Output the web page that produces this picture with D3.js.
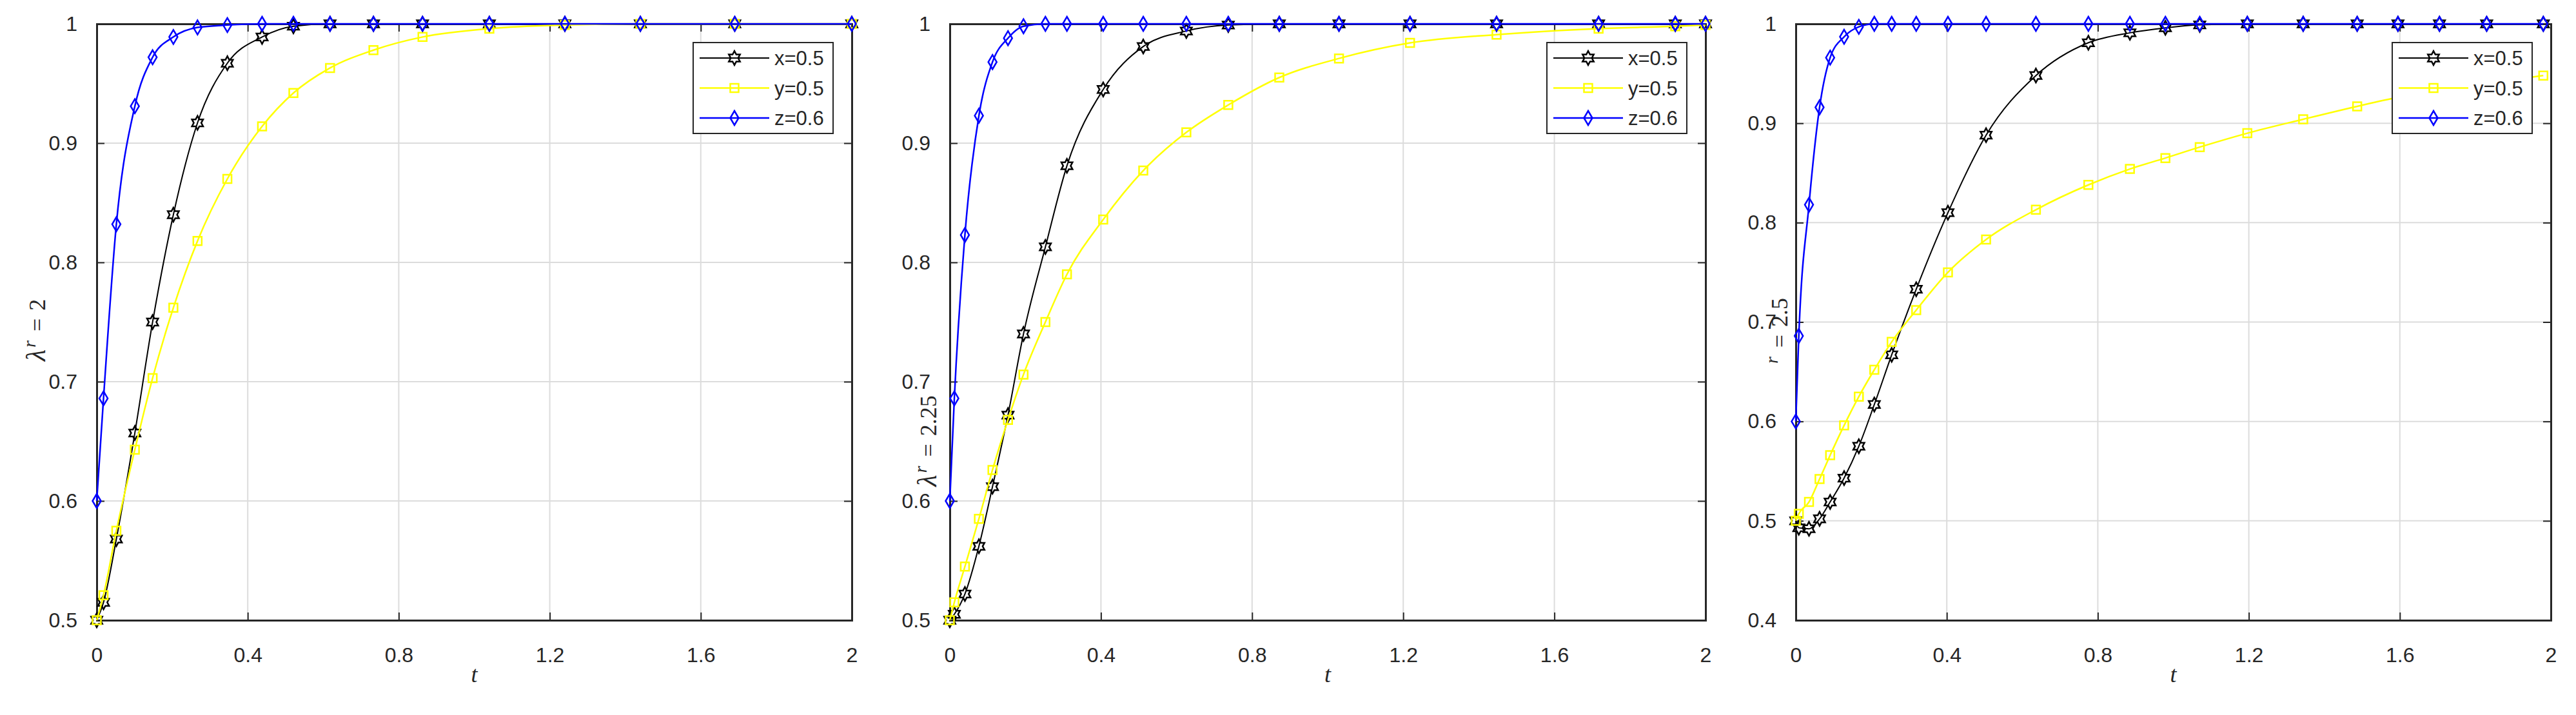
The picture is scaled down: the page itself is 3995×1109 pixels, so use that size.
<!DOCTYPE html>
<html>
<head>
<meta charset="utf-8">
<script src="https://cdn.jsdelivr.net/npm/d3@7"></script>
<style>
  html, body { margin: 0; padding: 0; background: #fff; }
  svg { display: block; }
</style>
</head>
<body>
<script>
const width = 3995;
const height = 1109;

const xTicks = [0, 0.4, 0.8, 1.2, 1.6, 2];
const legendNames = ["x=0.5", "y=0.5", "z=0.6"];

// r = 2
const t1 = [0, 0.018, 0.052, 0.101, 0.148, 0.203, 0.267, 0.346, 0.438, 0.521, 0.618, 0.733, 0.863, 1.04, 1.24, 1.44, 1.69, 2.0];
const x1 = [0.5, 0.515, 0.568, 0.657, 0.750, 0.840, 0.917, 0.967, 0.989, 0.998, 1, 1, 1, 1, 1, 1, 1, 1];
const y1 = [0.5, 0.521, 0.575, 0.643, 0.703, 0.762, 0.818, 0.870, 0.914, 0.942, 0.963, 0.978, 0.989, 0.996, 0.999, 1, 1, 1];
const z1 = [0.6, 0.686, 0.832, 0.931, 0.972, 0.989, 0.997, 0.999, 1, 1, 1, 1, 1, 1, 1, 1, 1, 1];

// r = 2.25
const t2 = [0, 0.012, 0.040, 0.077, 0.113, 0.154, 0.195, 0.253, 0.310, 0.406, 0.512, 0.626, 0.737, 0.872, 1.03, 1.218, 1.447, 1.717, 1.92, 2.0];
const x2 = [0.5, 0.505, 0.522, 0.562, 0.612, 0.672, 0.740, 0.813, 0.881, 0.945, 0.981, 0.994, 0.999, 1, 1, 1, 1, 1, 1, 1];
const y2 = [0.5, 0.515, 0.545, 0.585, 0.626, 0.668, 0.706, 0.750, 0.790, 0.836, 0.877, 0.909, 0.932, 0.955, 0.971, 0.984, 0.991, 0.996, 0.998, 0.999];
const z2 = [0.6, 0.686, 0.823, 0.923, 0.968, 0.988, 0.998, 1, 1, 1, 1, 1, 1, 1, 1, 1, 1, 1, 1, 1];

// r = 2.5
const t3 = [0, 0.008, 0.035, 0.063, 0.091, 0.128, 0.167, 0.208, 0.254, 0.319, 0.403, 0.504, 0.636, 0.775, 0.885, 0.979, 1.07, 1.196, 1.344, 1.487, 1.595, 1.705, 1.83, 1.98];
const x3 = [0.5, 0.493, 0.492, 0.502, 0.519, 0.543, 0.575, 0.617, 0.667, 0.733, 0.810, 0.888, 0.948, 0.981, 0.991, 0.996, 0.999, 1, 1, 1, 1, 1, 1, 1];
const y3 = [0.5, 0.507, 0.519, 0.542, 0.566, 0.596, 0.625, 0.652, 0.680, 0.712, 0.750, 0.783, 0.813, 0.838, 0.854, 0.865, 0.876, 0.890, 0.904, 0.917, 0.926, 0.933, 0.940, 0.948];
const z3 = [0.6, 0.686, 0.818, 0.916, 0.966, 0.987, 0.997, 1, 1, 1, 1, 1, 1, 1, 1, 1, 1, 1, 1, 1, 1, 1, 1, 1];

const yTicksA = [0.5, 0.6, 0.7, 0.8, 0.9, 1];
const yTicksB = [0.4, 0.5, 0.6, 0.7, 0.8, 0.9, 1];

const colors = ["#000000", "#ffff00", "#0000ff"];
const markers = ["hexagram", "square", "diamond"];

const panels = [
  {t: t1, series: [x1, y1, z1], yDomain: [0.5, 1], yTicks: yTicksA, lam: true, rhs: "2", left: 150, right: 1321, labelX: 70, labelY: 512},
  {t: t2, series: [x2, y2, z2], yDomain: [0.5, 1], yTicks: yTicksA, lam: true, rhs: "2.25", left: 1473, right: 2645, labelX: 1452, labelY: 684},
  {t: t3, series: [x3, y3, z3], yDomain: [0.4, 1], yTicks: yTicksB, lam: false, rhs: "2.5", left: 2785, right: 3956, labelX: 2772, labelY: 516}
];

const plotTop = 37, plotBottom = 962;
const ink = "#262626";
const tickFont = "'Liberation Sans', Arial, sans-serif";
const mathFont = "'Liberation Serif', 'Times New Roman', serif";

function markerPath(kind) {
  if (kind === "diamond") {
    return "M0,-11L6.5,0L0,11L-6.5,0Z";
  }
  if (kind === "square") {
    return "M-6.5,-6.5L6.5,-6.5L6.5,6.5L-6.5,6.5Z";
  }
  // six pointed star
  const pts = [];
  for (let i = 0; i < 12; i++) {
    const r = i % 2 === 0 ? 10 : 10 / Math.sqrt(3);
    const a = Math.PI / 2 + i * Math.PI / 6;
    pts.push([r * Math.cos(a), -r * Math.sin(a) * 1.08]);
  }
  return "M" + pts.map((p) => p[0].toFixed(2) + "," + p[1].toFixed(2)).join("L") + "Z";
}

const svg = d3.select("body").append("svg")
  .attr("width", width)
  .attr("height", height)
  .attr("viewBox", `0 0 ${width} ${height}`);

panels.forEach((p) => {
  const x = d3.scaleLinear().domain([0, 2]).range([p.left, p.right]);
  const y = d3.scaleLinear().domain(p.yDomain).range([plotBottom, plotTop]);
  const g = svg.append("g");

  // grid
  g.append("g").selectAll("line")
    .data(xTicks.slice(1, -1))
    .enter().append("line")
    .attr("x1", (d) => x(d)).attr("x2", (d) => x(d))
    .attr("y1", plotTop).attr("y2", plotBottom)
    .attr("stroke", "#dcdcdc").attr("stroke-width", 2);
  g.append("g").selectAll("line")
    .data(p.yTicks.slice(1, -1))
    .enter().append("line")
    .attr("x1", p.left).attr("x2", p.right)
    .attr("y1", (d) => y(d)).attr("y2", (d) => y(d))
    .attr("stroke", "#dcdcdc").attr("stroke-width", 2);

  // axes, ticks pointing inward on all four sides
  const fmt = (d) => d3.format("~g")(d);
  const xAxis = d3.axisBottom(x).tickValues(xTicks).tickSize(-12).tickPadding(42).tickFormat(fmt);
  const xAxisTop = d3.axisTop(x).tickValues(xTicks).tickSize(-12).tickFormat("");
  const yAxis = d3.axisLeft(y).tickValues(p.yTicks).tickSize(-12).tickPadding(30).tickFormat(fmt);
  const yAxisRight = d3.axisRight(y).tickValues(p.yTicks).tickSize(-12).tickFormat("");

  const axes = [
    g.append("g").attr("transform", `translate(0,${plotBottom})`).call(xAxis),
    g.append("g").attr("transform", `translate(0,${plotTop})`).call(xAxisTop),
    g.append("g").attr("transform", `translate(${p.left},0)`).call(yAxis),
    g.append("g").attr("transform", `translate(${p.right},0)`).call(yAxisRight)
  ];
  axes.forEach((a) => {
    a.select(".domain").attr("stroke", ink).attr("stroke-width", 3);
    a.selectAll(".tick line").attr("stroke", ink).attr("stroke-width", 2);
    a.selectAll("text").attr("fill", ink).attr("font-family", tickFont).attr("font-size", 32);
  });

  // axis labels
  g.append("text")
    .attr("x", (p.left + p.right) / 2)
    .attr("y", 1058)
    .attr("text-anchor", "middle")
    .attr("font-family", mathFont)
    .attr("font-style", "italic")
    .attr("font-size", 36)
    .attr("fill", ink)
    .text("t");

  const yl = g.append("text")
    .attr("transform", `translate(${p.labelX},${p.labelY}) rotate(-90)`)
    .attr("text-anchor", "middle")
    .attr("font-family", mathFont)
    .attr("font-size", 36)
    .attr("fill", ink);
  if (p.lam) yl.append("tspan").attr("font-style", "italic").attr("font-size", 42).text("λ");
  yl.append("tspan").attr("font-style", "italic").attr("font-size", 28).attr("dx", 3).attr("dy", -15).text("r");
  yl.append("tspan").attr("dx", 14).attr("dy", 15).text("=");
  yl.append("tspan").attr("dx", 12).text(p.rhs);

  // series
  const line = d3.line()
    .x((d) => x(d[0]))
    .y((d) => y(d[1]))
    .curve(d3.curveMonotoneX);

  p.series.forEach((vals, i) => {
    const pts = p.t.map((t, k) => [t, vals[k]]);
    g.append("path")
      .datum(pts)
      .attr("d", line)
      .attr("fill", "none")
      .attr("stroke", colors[i])
      .attr("stroke-width", i === 0 ? 2 : 2.5);
    g.append("g").selectAll("path")
      .data(pts)
      .enter().append("path")
      .attr("transform", (d) => `translate(${x(d[0])},${y(d[1])})`)
      .attr("d", markerPath(markers[i]))
      .attr("fill", "none")
      .attr("stroke", colors[i])
      .attr("stroke-width", 2.5);
  });

  // legend
  const lw = 217, lh = 141;
  const lx = p.right - 29 - lw, ly = plotTop + 29;
  const leg = g.append("g").attr("transform", `translate(${lx},${ly})`);
  leg.append("rect")
    .attr("width", lw).attr("height", lh)
    .attr("fill", "#fff").attr("stroke", ink).attr("stroke-width", 2);
  legendNames.forEach((name, i) => {
    const ry = 24 + i * 46.5;
    leg.append("line")
      .attr("x1", 10).attr("x2", 118)
      .attr("y1", ry).attr("y2", ry)
      .attr("stroke", colors[i]).attr("stroke-width", i === 0 ? 2 : 2.5);
    leg.append("path")
      .attr("transform", `translate(64,${ry})`)
      .attr("d", markerPath(markers[i]))
      .attr("fill", "none").attr("stroke", colors[i]).attr("stroke-width", 2.5);
    leg.append("text")
      .attr("x", 126).attr("y", ry + 11)
      .attr("font-family", tickFont).attr("font-size", 31)
      .attr("fill", ink)
      .text(name);
  });
});
</script>
</body>
</html>
